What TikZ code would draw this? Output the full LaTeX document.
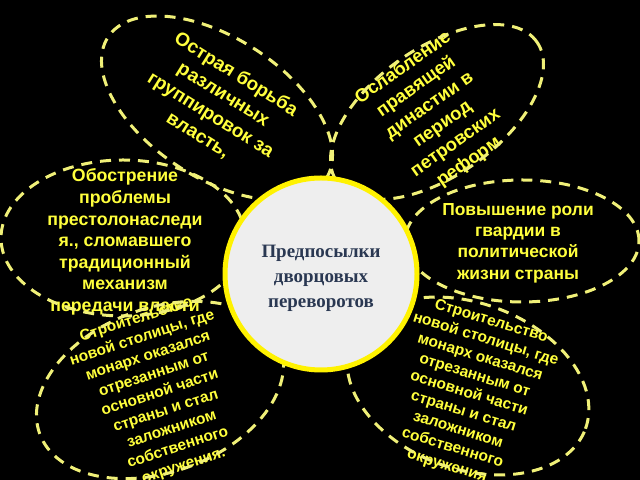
\documentclass[tikz,border=0pt]{standalone}
\usepackage{fontspec}
\setmainfont{Liberation Serif}
\newfontfamily\petalfont{Liberation Sans}
\definecolor{petalyellow}{RGB}{255,255,60}
\definecolor{dashyellow}{RGB}{240,240,120}
\definecolor{hubfill}{RGB}{238,238,238}
\definecolor{hubtext}{RGB}{42,56,82}

\begin{document}
\begin{tikzpicture}[x=1bp,y=1bp,
    petal/.style={draw=dashyellow,line width=3bp,dash pattern=on 11bp off 8bp},
    petaltext/.style args={#1/#2}{text=petalyellow,align=center,inner sep=0pt,font=\petalfont\bfseries\fontsize{#1}{#2}\selectfont},
    hub/.style={circle,draw=yellow,line width=5bp,fill=hubfill,minimum size=192bp},
    hublabel/.style={text=hubtext,align=center,inner sep=0pt,font=\bfseries\fontsize{19}{25}\selectfont}]
        \useasboundingbox (0,0) rectangle (640,480);
        \fill[black] (0,0) rectangle (640,480);

        \node[petaltext=19/24,rotate=-32] (struggle) at (217,375) {Острая борьба\\различных\\группировок за\\власть,};
        \node[petaltext=18.5/23,rotate=35] (dynasty) at (436,365) {Ослабление\\правящей\\династии в\\период\\петровских\\реформ};
        \node[petaltext=17.8/21.7] (succession) at (125,238) {Обострение\\проблемы\\престолонаследи\\я., сломавшего\\традиционный\\механизм\\передачи власти};
        \node[petaltext=17.5/21.5] (guard) at (518,237) {Повышение роли\\гвардии в\\политической\\жизни страны};
        \node[petaltext=15.5/19.3,rotate=18] (capitalL) at (160,87) {Строительство\\новой столицы, где\\монарх оказался\\отрезанным от\\основной части\\страны и стал\\заложником\\собственного\\окружения.};
        \node[petaltext=15.5/19,rotate=-17] (capitalR) at (469,86) {Строительство\\новой столицы, где\\монарх оказался\\отрезанным от\\основной части\\страны и стал\\заложником\\собственного\\окружения};

        \foreach \cx/\cy/\a/\b/\ang in {217/372/130/70/-33, 437/368/122/64/35, 123/242/122/78/0,
            522/239/117/61/0, 160/90/128/82/20, 468/94/125/83/-20} {
          \draw[petal,rotate around={\ang:(\cx,\cy)}] (\cx,\cy) ellipse [x radius=\a,y radius=\b];
        }

        \node[hub] (hub) at (321,206) {};
        \node[hublabel] (causes) at (321,202) {Предпосылки\\дворцовых\\переворотов};
      \end{tikzpicture}
\end{document}
